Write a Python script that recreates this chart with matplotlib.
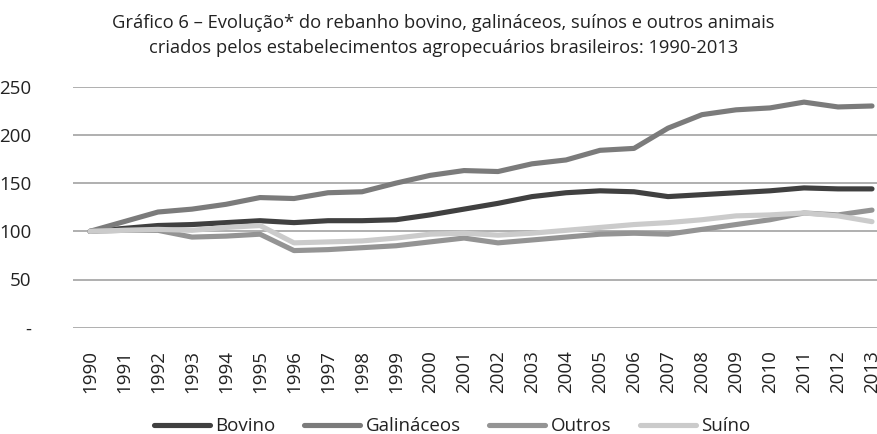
import matplotlib
matplotlib.use("Agg")
import matplotlib.pyplot as plt
from matplotlib.ticker import FixedLocator, FuncFormatter

plt.rcParams['font.family'] = ['Open Sans', 'DejaVu Sans']

years = list(range(1990, 2014))
bovino = [100, 103, 106, 107, 109, 111, 109, 111, 111, 112, 117, 123, 129, 136, 140, 142, 141, 136, 138, 140, 142, 145, 144, 144]
galinaceos = [100, 110, 120, 123, 128, 135, 134, 140, 141, 150, 158, 163, 162, 170, 174, 184, 186, 207, 221, 226, 228, 234, 229, 230]
outros = [100, 101, 101, 94, 95, 97, 80, 81, 83, 85, 89, 93, 88, 91, 94, 97, 98, 97, 102, 107, 112, 119, 117, 122]
suino = [100, 101, 102, 101, 104, 106, 88, 89, 90, 93, 97, 98, 96, 98, 101, 104, 107, 109, 112, 116, 117, 119, 116, 110]

series = [("Bovino", bovino, "#404040"),
          ("Galináceos", galinaceos, "#7b7b7b"),
          ("Outros", outros, "#949494"),
          ("Suíno", suino, "#cbcbcb")]

fig = plt.figure(figsize=(8.78, 4.34), dpi=100)
ax = fig.add_axes([73/878, 106.3/434, 816/878, 241/434])

for name, vals, col in series:
    ax.plot(years, vals, color=col, lw=3.7, solid_capstyle='round', solid_joinstyle='round', label=name)

ax.set_xlim(1989.5, 2013.5)
ax.set_ylim(0, 250)
ax.yaxis.set_major_locator(FixedLocator([0, 50, 100, 150, 200, 250]))
ax.yaxis.set_major_formatter(FuncFormatter(lambda v, p: "-" if v == 0 else f"{int(v)}"))
ax.set_xticks(years)
ax.set_xticklabels([str(y) for y in years], rotation=90)
ax.grid(axis='y', color='#9a9a9a', lw=1.1)
ax.set_axisbelow(True)
for s in ax.spines.values():
    s.set_visible(False)
ax.tick_params(axis='both', length=0, labelsize=13.5, colors='#222222')
ax.tick_params(axis='y', pad=30)
ax.tick_params(axis='x', pad=16)
for lbl in ax.get_yticklabels():
    lbl.set_horizontalalignment('right')

fig.text(0.505, 0.948, "Gráfico 6 – Evolução* do rebanho bovino, galináceos, suínos e outros animais",
         ha='center', va='center', fontsize=13.2, color='#222222')
fig.text(0.505, 0.890, "criados pelos estabelecimentos agropecuários brasileiros: 1990-2013",
         ha='center', va='center', fontsize=13.2, color='#222222')

leg = fig.legend(loc='center', bbox_to_anchor=(0.515, 0.018), ncol=4, frameon=False,
                 fontsize=13.5, handlelength=3.0, handletextpad=0.3, columnspacing=1.5,
                 labelcolor='#222222')

fig.savefig("out.png", dpi=100)
